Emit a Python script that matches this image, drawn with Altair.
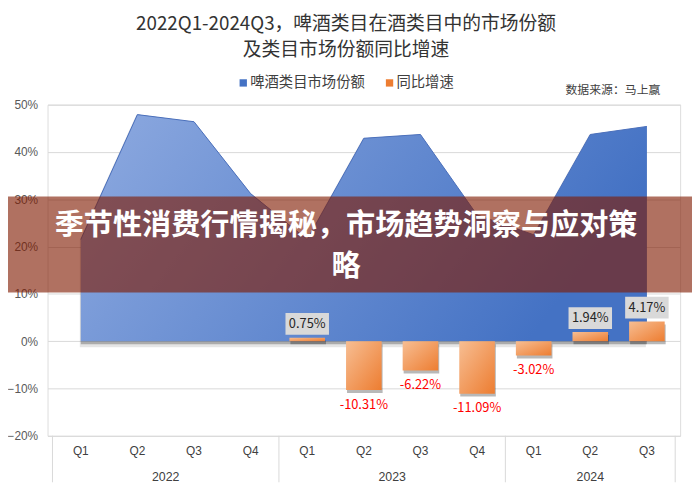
import altair as alt
import pandas as pd

# ---------------- data ----------------
quarters = ["Q1", "Q2", "Q3", "Q4", "Q1", "Q2", "Q3", "Q4", "Q1", "Q2", "Q3"]
years = ["2022", "2022", "2022", "2022", "2023", "2023", "2023", "2023", "2024", "2024", "2024"]
beer_share = [21.5, 47.9, 46.4, 31.2, 21.5, 42.9, 43.7, 26.7, 22.5, 43.7, 45.4]
yoy_growth = [None, None, None, None, 0.75, -10.31, -6.22, -11.09, -3.02, 1.94, 4.17]
y_ticks = [-20, -10, 0, 10, 20, 30, 40, 50]

title_lines = ["2022Q1-2024Q3，啤酒类目在酒类目中的市场份额", "及类目市场份额同比增速"]
legend_labels = ["啤酒类目市场份额", "同比增速"]
source_note = ["数据来源：马上赢"]
banner_lines = ["季节性消费行情揭秘，市场趋势洞察与应对策", "略"]

n = len(quarters)
df = pd.DataFrame({"idx": list(range(n)), "quarter": quarters, "year": years,
                   "share": beer_share, "yoy": yoy_growth})
bars_df = df.dropna(subset=["yoy"]).copy()
bars_df["label"] = bars_df["yoy"].map(lambda v: f"{v:.2f}%")
pos_df = bars_df[bars_df["yoy"] > 0]
neg_df = bars_df[bars_df["yoy"] < 0]

yr = df.groupby("year")["idx"].agg(["min", "max"]).reset_index()
yr["center"] = (yr["min"] + yr["max"]) / 2
sep_df = pd.DataFrame({"b": sorted(set(list(yr["min"] - 0.5) + list(yr["max"] + 0.5)))})

# ---------------- layout ----------------
W, H = 640, 335
xs = alt.Scale(domain=[-0.5, n - 0.5], nice=False, zero=False)
ys = alt.Scale(domain=[-20, 50], nice=False)
X = alt.X("idx:Q", scale=xs, axis=None)
yaxis = alt.Axis(values=y_ticks, labelExpr="datum.label + '%'", grid=True, gridColor="#D9D9D9",
                 domain=False, ticks=False, labelPadding=10, labelFontSize=12,
                 labelColor="#595959", labelFont="Liberation Sans", title=None)

def Y(field):
    return alt.Y(field, scale=ys, axis=yaxis, title=None)

CJK = "Noto Sans CJK SC"

def single(text_list):
    return alt.Chart(pd.DataFrame({"t": text_list}))

# area (beer share)
area_grad = alt.Gradient(gradient="linear",
                         stops=[alt.GradientStop(color="#8EAAE0", offset=0),
                                alt.GradientStop(color="#4472C4", offset=1)],
                         x1=0, y1=0, x2=1, y2=0.3)
base = alt.Chart(df)
area_shadow1 = base.mark_area(color="black", opacity=0.10, y2Offset=6, xOffset=-1).encode(
    x=X, y=Y("share:Q"), y2=alt.datum(0))
area_shadow2 = base.mark_area(color="black", opacity=0.25, y2Offset=3).encode(
    x=X, y=Y("share:Q"), y2=alt.datum(0))
area = base.mark_area(color=area_grad, opacity=1).encode(
    x=X, y=Y("share:Q"), y2=alt.datum(0))
area_line = base.mark_line(color="#4A6FBC", strokeWidth=1).encode(
    x=X, y=Y("share:Q"))

# bars (yoy growth)
bar_grad = alt.Gradient(gradient="linear",
                        stops=[alt.GradientStop(color="#F7BE93", offset=0),
                               alt.GradientStop(color="#ED7D31", offset=1)],
                        x1=0, y1=0, x2=1, y2=1)
bchart = alt.Chart(bars_df)
bar_shadow = bchart.mark_bar(size=36, color="black", opacity=0.28, yOffset=3, y2Offset=3, xOffset=1).encode(
    x=X, y=Y("yoy:Q"), y2=alt.datum(0))
bars = bchart.mark_bar(size=36, color=bar_grad).encode(
    x=X, y=Y("yoy:Q"), y2=alt.datum(0))

boxes = alt.Chart(pos_df).mark_rect(color="#D9D9D9", xOffset=-22, x2Offset=22,
                                    yOffset=-25, y2Offset=-3).encode(
    x=X, x2=alt.X2("idx:Q"), y=Y("yoy:Q"), y2=alt.Y2("yoy:Q"))
pos_text = alt.Chart(pos_df).mark_text(font=CJK, fontSize=13, color="#262626", dy=-14).encode(
    x=X, y=Y("yoy:Q"), text="label:N")
neg_text = alt.Chart(neg_df).mark_text(font=CJK, fontSize=13, color="#FF0000", dy=15).encode(
    x=X, y=Y("yoy:Q"), text="label:N")

# category axis (two levels)
q_text = base.mark_text(font="Liberation Sans", fontSize=12, color="#404040").encode(
    x=X, y=alt.value(H + 15), text="quarter:N")
yr_text = alt.Chart(yr).mark_text(font="Liberation Sans", fontSize=12.5, color="#404040").encode(
    x=alt.X("center:Q", scale=xs, axis=None), y=alt.value(H + 42), text="year:N")
seps = alt.Chart(sep_df).mark_rule(color="#D9D9D9").encode(
    x=alt.X("b:Q", scale=xs, axis=None), y=alt.value(H), y2=alt.value(H + 47))

# titles, legend, source
t1 = single([title_lines[0]]).mark_text(font=CJK, fontSize=19, color="#333333").encode(
    x=alt.value(302), y=alt.value(-82), text="t:N")
t2 = single([title_lines[1]]).mark_text(font=CJK, fontSize=19, color="#333333").encode(
    x=alt.value(302), y=alt.value(-55), text="t:N")
lg1_sq = single([legend_labels[0]]).mark_square(size=55, color="#4472C4", opacity=1).encode(
    x=alt.value(198), y=alt.value(-22))
lg1_tx = single([legend_labels[0]]).mark_text(font=CJK, fontSize=14.5, color="#404040", align="left").encode(
    x=alt.value(205), y=alt.value(-22), text="t:N")
lg2_sq = single([legend_labels[1]]).mark_square(size=55, color="#ED7D31", opacity=1).encode(
    x=alt.value(346), y=alt.value(-22))
lg2_tx = single([legend_labels[1]]).mark_text(font=CJK, fontSize=14.5, color="#404040", align="left").encode(
    x=alt.value(353), y=alt.value(-22), text="t:N")
src = single(source_note).mark_text(font=CJK, fontSize=12, color="#404040", align="right").encode(
    x=alt.value(620), y=alt.value(-15), text="t:N")

# overlay banner
banner = single([""]).mark_rect(color="#801A00", opacity=0.62).encode(
    x=alt.value(-40), x2=alt.value(652), y=alt.value(93), y2=alt.value(190))
BF = 29.5
b1 = single([banner_lines[0]]).mark_text(font=CJK, fontSize=BF, fontWeight="bold", color="#FFFFFF").encode(
    x=alt.value(302), y=alt.value(123), text="t:N")
b2 = single([banner_lines[1]]).mark_text(font=CJK, fontSize=BF, fontWeight="bold", color="#FFFFFF").encode(
    x=alt.value(302), y=alt.value(164), text="t:N")

chart = alt.layer(
    area_shadow1, area_shadow2, area, area_line,
    bar_shadow, bars, boxes, pos_text, neg_text,
    seps, q_text, yr_text,
    t1, t2, lg1_sq, lg1_tx, lg2_sq, lg2_tx, src,
    banner, b1, b2,
).properties(
    width=W, height=H,
    autosize=alt.AutoSizeParams(type="none"),
    padding={"left": 40, "top": 95, "right": 12, "bottom": 50},
).configure_view(stroke=None).configure(background="white")

chart.save("out.html", embed_options={"renderer": "svg", "actions": False})
